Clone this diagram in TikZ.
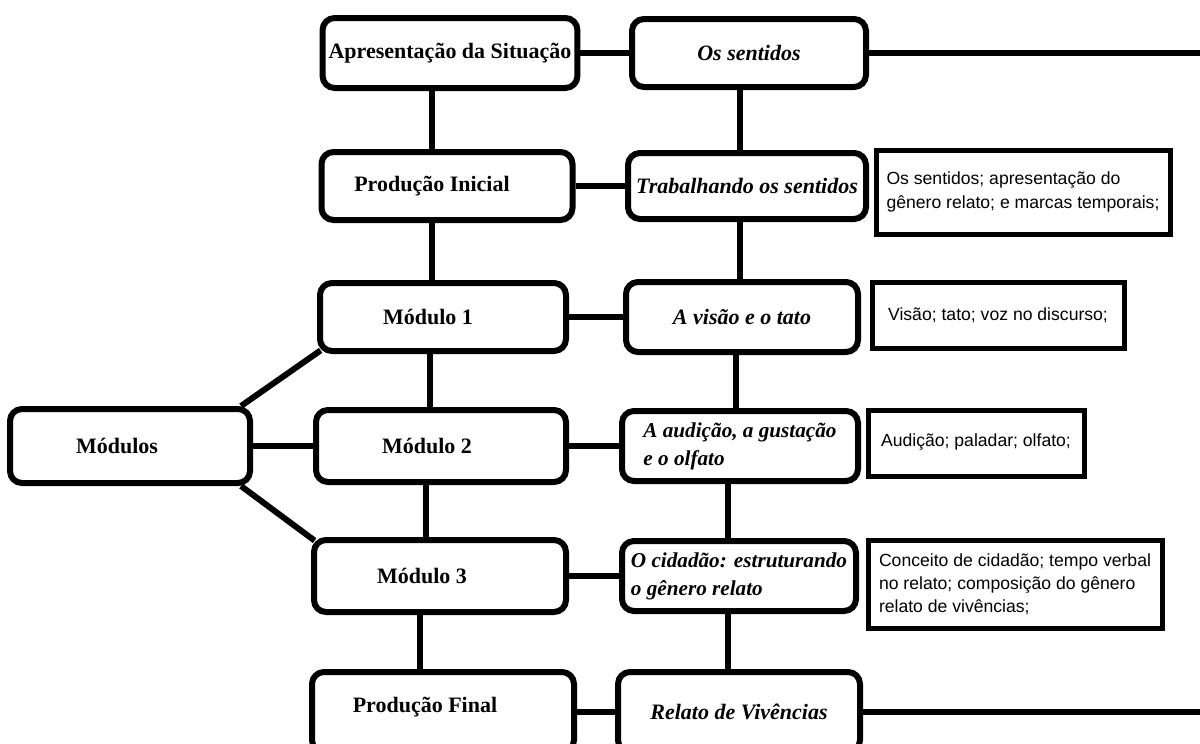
\documentclass[tikz,border=0pt]{standalone}
\usepackage{fontspec}
\setmainfont{Liberation Serif}
\newfontfamily\notefont{Liberation Sans}
\begin{document}
\begin{tikzpicture}
  [x=.5pt,y=-.5pt,line width=3pt,every node/.style={draw,fill=white,line width=3pt,rounded corners=6pt,inner sep=3pt}]
  \tikzstyle{stage} = [font=\fontsize{11}{14}\selectfont\bfseries]
  \tikzstyle{theme} = [font=\fontsize{11}{14}\selectfont\bfseries\itshape]
  \tikzstyle{duo} = [theme,align=left,font=\fontsize{10.6}{14}\selectfont\bfseries\itshape]
  \tikzstyle{note} = [rounded corners=0pt,line width=2.5pt,align=left,font=\notefont\fontsize{8.8}{11.6}\selectfont]
  \useasboundingbox (0,0) rectangle (1200,744);
  \clip (0,0) rectangle (1200,744);

  % etapas da sequencia
  \node[stage,minimum width=124pt,minimum height=35pt] (ap) at (450,53) {Apresentação da Situação};
  \node[stage,minimum width=125.5pt,minimum height=34pt] (pi) at (447,186) {\hspace*{-15pt}Produção Inicial};
  \node[stage,minimum width=123pt,minimum height=34pt] (m1) at (443,317) {\hspace*{-15pt}Módulo 1};
  \node[stage,minimum width=125pt,minimum height=36pt] (m2) at (441,446) {\hspace*{-14pt}Módulo 2};
  \node[stage,minimum width=126pt,minimum height=36pt] (m3) at (440,576) {\hspace*{-18pt}Módulo 3};
  \node[stage,minimum width=131pt,minimum height=40pt] (pf) at (443,712) {\hspace*{-18pt}\raisebox{7pt}{Produção Final}};
  \node[stage,minimum width=120pt,minimum height=37pt] (mods) at (130,446) {\hspace*{-13pt}Módulos};

  % temas
  \node[theme,minimum width=117pt,minimum height=34pt] (os) at (749,53) {Os sentidos};
  \node[theme,minimum width=119pt,minimum height=33pt] (tr) at (747,186) {Trabalhando os sentidos};
  \node[theme,minimum width=116pt,minimum height=35pt] (vt) at (742,317) {A visão e o tato};
  \node[duo,minimum width=118pt,minimum height=35pt] (au) at (740,446) {A audição, a gustação\\e o olfato};
  \node[duo,minimum width=117pt,minimum height=35pt] (ci) at (739,576) {O cidadão: estruturando\\o gênero relato};
  \node[theme,minimum width=121pt,minimum height=40pt] (re) at (739,712) {Relato de Vivências};

  % conteudos
  \node[note,minimum width=147pt,minimum height=42pt] (c1) at (1023,192) {Os sentidos; apresentação do\\gênero relato; e marcas temporais;};
  \node[note,minimum width=126pt,minimum height=33pt] (c2) at (998,315) {Visão; tato; voz no discurso;};
  \node[note,minimum width=108pt,minimum height=33pt] (c3) at (976,443) {\raisebox{2.5pt}{Audição; paladar; olfato;}};
  \node[note,minimum width=147pt,minimum height=44pt] (c4) at (1015,584) {Conceito de cidadão; tempo verbal\\no relato; composição do gênero\\relato de vivências;};

  \coordinate (fimA) at (1200,53);
  \coordinate (fimB) at (1200,712);

\foreach \source/\dest in {ap/os,pi/tr,m1/vt,m2/au,m3/ci,pf/re,mods/m2,os/fimA,re/fimB}
   \draw (\source) -- (\dest);
\foreach \source/\dest/\xpos in {ap/pi/432,pi/m1/432,m1/m2/430,m2/m3/426,m3/pf/420,os/tr/740,tr/vt/740,vt/au/736,au/ci/728,ci/re/728}
   \draw (\source.south -| \xpos,0) -- (\dest.north -| \xpos,0);
\draw ([xshift=-6pt]mods.north east) -- ([shift={(1.8pt,1.8pt)}]m1.south west);
\draw ([xshift=-6pt]mods.south east) -- ([shift={(1.8pt,-1.8pt)}]m3.north west);

\end{tikzpicture}
\end{document}
